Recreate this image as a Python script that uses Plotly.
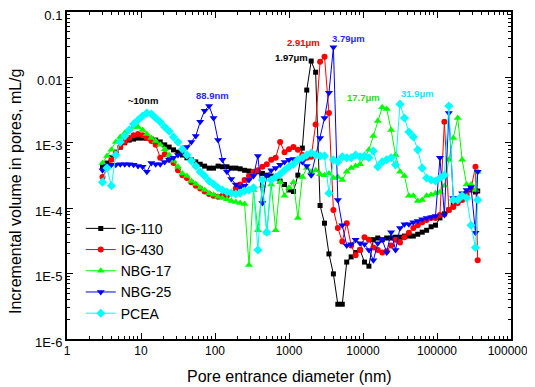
import plotly.graph_objects as go

# Pore entrance diameter (nm)
diameter_nm = [3.02, 3.47, 3.98, 4.57, 5.25, 6.03, 6.92, 7.94, 9.12, 10.5,
               12.0, 13.8, 15.8, 18.2, 20.9, 24.0, 27.5, 31.6, 36.3, 41.7,
               47.9, 55.0, 63.1, 72.4, 83.2, 95.5, 110, 126, 145, 166,
               191, 219, 251, 288, 331, 380, 437, 501, 575, 661,
               759, 871, 1000, 1148, 1318, 1514, 1738, 1995, 2291, 2630,
               3020, 3467, 3981, 4571, 5248, 6026, 6918, 7943, 9120, 10470,
               12020, 13800, 15850, 18200, 20890, 23990, 27540, 31620, 36310, 41690,
               47860, 54950, 63100, 72440, 83180, 95500, 109600, 125900, 144500, 166000,
               190500, 218800, 251200, 288400, 331100, 354800]

# Incremental volume in pores (mL/g)
ig110 = [4.3e-4, 4.9e-4, 5.9e-4, 7.2e-4, 8.6e-4, 1.0e-3, 1.1e-3, 1.14e-3, 1.18e-3, 1.18e-3,
         1.18e-3, 1.14e-3, 1.1e-3, 1.03e-3, 9.3e-4, 8.6e-4, 7.8e-4, 7.2e-4, 6.5e-4, 5.9e-4,
         5.5e-4, 5.1e-4, 4.7e-4, 4.4e-4, 4.1e-4, 4.1e-4, 4.4e-4, 4.3e-4, 4.3e-4, 4.1e-4,
         4.1e-4, 4.0e-4, 3.8e-4, 3.7e-4, 3.6e-4, 3.6e-4, 3.4e-4, 3.2e-4, 3.1e-4, 2.9e-4,
         2.6e-4, 2.3e-4, 1.9e-4, 1.8e-4, 3.2e-4, 8.3e-4, 6.4e-3, 1.78e-2, 1.2e-2, 1.1e-4,
         5.9e-5, 2.0e-5, 9.9e-6, 3.4e-6, 3.4e-6, 1.5e-5, 1.8e-5, 2.1e-5, 2.3e-5, 1.5e-5,
         1.3e-5, 3.3e-5, 3.5e-5, 3.3e-5, 3.5e-5, 3.5e-5, 3.6e-5, 3.6e-5, 3.75e-5, 3.75e-5,
         3.75e-5, 4.0e-5, 4.3e-5, 4.6e-5, 5.2e-5, 5.5e-5, 7.1e-5, 8.2e-5, 9.4e-5, 1.16e-4,
         1.34e-4, 1.48e-4, 1.65e-4, 1.9e-4, 1.77e-4, 1.83e-4]

ig430 = [3.0e-4, 4.1e-4, 5.5e-4, 7.0e-4, 8.6e-4, 1.03e-3, 1.18e-3, 1.3e-3, 1.36e-3, 1.3e-3,
         1.18e-3, 1.07e-3, 9.3e-4, 5.9e-4, 6.7e-4, 5.5e-4, 4.9e-4, 3.8e-4, 3.2e-4, 2.9e-4,
         2.5e-4, 2.2e-4, 2.0e-4, 1.8e-4, 1.65e-4, 1.55e-4, 1.5e-4, 1.55e-4, 1.55e-4, 1.7e-4,
         2.0e-4, 2.3e-4, 2.7e-4, 3.1e-4, 3.6e-4, 3.8e-4, 4.3e-4, 4.7e-4, 5.5e-4, 5.9e-4,
         1.03e-3, 7.2e-4, 8.0e-4, 8.6e-4, 7.8e-4, 6.5e-4, 5.9e-4, 6.1e-4, 1.9e-3, 1.74e-2,
         2.07e-2, 2.85e-3, 9.4e-5, 5.0e-5, 3.1e-5, 5.9e-5, 2.7e-5, 1.9e-5, 2.3e-5, 3.6e-5,
         3.3e-5, 2.5e-5, 2.3e-5, 2.1e-5, 2.2e-5, 2.7e-5, 3.3e-5, 3.0e-5, 3.6e-5, 4.2e-5,
         5.0e-5, 5.5e-5, 6.1e-5, 6.6e-5, 7.1e-5, 7.1e-5, 7.9e-5, 2.1e-3, 9.4e-5, 1.04e-4,
         1.2e-4, 1.34e-4, 1.6e-4, 2.0e-4, 4.3e-4, 1.6e-5]

nbg17 = [4.9e-4, 6.3e-4, 7.8e-4, 1.03e-3, 1.23e-3, 1.41e-3, 1.63e-3, 1.74e-3, 1.74e-3, 1.57e-3,
         1.36e-3, 1.18e-3, 1.07e-3, 9.3e-4, 8.0e-4, 6.5e-4, 5.3e-4, 4.3e-4, 3.4e-4, 3.1e-4,
         2.6e-4, 2.35e-4, 2.05e-4, 1.9e-4, 1.7e-4, 1.6e-4, 1.5e-4, 1.43e-4, 1.37e-4, 1.29e-4,
         1.24e-4, 1.2e-4, 1.16e-4, 1.35e-5, 1.9e-4, 4.6e-5, 2.2e-4, 4.2e-5, 2.3e-4, 4.6e-5,
         2.5e-4, 1.55e-4, 2.05e-4, 2.5e-4, 7.1e-5, 3.0e-4, 4.1e-4, 3.6e-4, 3.8e-4, 3.3e-4,
         3.2e-4, 3.4e-4, 2.9e-4, 3.0e-4, 2.7e-4, 3.6e-4, 4.1e-4, 4.4e-4, 4.7e-4, 5.9e-4,
         7.8e-4, 1.27e-3, 2.15e-3, 3.5e-3, 3.3e-3, 1.57e-3, 6.5e-4, 3.6e-4, 3.1e-4, 1.55e-4,
         1.55e-4, 1.29e-4, 1.34e-4, 1.55e-4, 1.6e-4, 1.7e-4, 1.77e-4, 2.2e-4, 5.5e-4, 1.18e-3,
         2.4e-3, 5.5e-4, 2.3e-4, 2.3e-4, 1.9e-4, 3.6e-4]

nbg25 = [3.8e-4, 4.4e-4, 4.6e-4, 4.6e-4, 4.7e-4, 4.7e-4, 4.7e-4, 4.6e-4, 4.4e-4, 4.3e-4,
         3.6e-4, 4.9e-4, 4.7e-4, 4.7e-4, 5.1e-4, 5.5e-4, 5.9e-4, 6.5e-4, 7.5e-4, 8.6e-4,
         1.03e-3, 1.27e-3, 2.1e-3, 3.1e-3, 3.65e-3, 2.4e-3, 1.1e-3, 5.5e-4, 3.6e-4, 2.8e-4,
         2.3e-4, 2.1e-4, 2.2e-4, 2.7e-4, 3.1e-4, 6.3e-4, 1.2e-4, 3.2e-4, 3.8e-4, 4.1e-4,
         4.6e-4, 5.1e-4, 5.5e-4, 5.65e-4, 5.5e-4, 5.1e-4, 4.4e-4, 3.2e-4, 6.5e-4, 1.18e-3,
         2.4e-3, 5.8e-3, 2.9e-2, 1.34e-4, 5.5e-5, 2.7e-5, 2.8e-5, 3.3e-5, 2.9e-5, 2.8e-5,
         2.3e-5, 1.6e-5, 2.9e-5, 3.3e-5, 2.1e-5, 4.3e-5, 2.3e-5, 5.0e-5, 5.7e-5, 5.7e-5,
         6.1e-5, 6.4e-5, 6.8e-5, 7.1e-5, 7.3e-5, 7.6e-5, 5.9e-4, 7.9e-5, 2.85e-3, 1.43e-4,
         1.38e-4, 1.7e-4, 1.9e-4, 2.1e-4, 4.2e-5, 3.6e-4]

pcea = [2.5e-4, 4.1e-4, 2.2e-4, 6.5e-4, 1.03e-3, 1.27e-3, 1.57e-3, 1.94e-3, 2.23e-3, 2.57e-3,
        2.86e-3, 2.76e-3, 2.4e-3, 2.08e-3, 1.74e-3, 1.5e-3, 1.23e-3, 1.03e-3, 8.0e-4, 6.5e-4,
        5.3e-4, 4.4e-4, 3.6e-4, 3.1e-4, 2.6e-4, 2.35e-4, 2.05e-4, 1.9e-4, 1.77e-4, 1.7e-4,
        1.65e-4, 1.7e-4, 1.83e-4, 1.9e-4, 2.05e-4, 2.3e-5, 2.7e-4, 4.3e-5, 2.7e-4, 3.0e-4,
        3.3e-4, 3.8e-4, 4.3e-4, 4.7e-4, 5.5e-4, 5.9e-4, 6.5e-4, 7.0e-4, 6.5e-4, 6.3e-4,
        6.3e-4, 1.7e-4, 5.5e-4, 5.1e-4, 6.1e-4, 5.9e-4, 5.9e-4, 6.5e-4, 6.1e-4, 6.3e-4,
        5.9e-4, 7.5e-4, 4.3e-4, 5.1e-4, 5.5e-4, 5.9e-4, 4.6e-4, 3.9e-3, 2.4e-3, 1.46e-3,
        1.23e-3, 7.8e-4, 4.1e-4, 2.9e-4, 2.7e-4, 2.6e-4, 2.9e-4, 3.2e-4, 3.65e-3, 1.34e-4,
        1.34e-4, 1.55e-4, 1.43e-4, 5.5e-5, 2.5e-5, 1.34e-4]

series_names = ["IG-110", "IG-430", "NBG-17", "NBG-25", "PCEA"]
series_values = [ig110, ig430, nbg17, nbg25, pcea]
series_colors = ["#000000", "#ff0000", "#00ff00", "#0000ff", "#00ffff"]
series_symbols = ["square", "circle", "triangle-up", "triangle-down", "diamond"]
series_sizes = [5, 6, 7, 7, 7]

x_tick_vals = [1, 10, 100, 1000, 10000, 100000, 1000000]
x_tick_text = ["1", "10", "100", "1000", "10000", "100000", "1000000"]
y_tick_vals = [1e-6, 1e-5, 1e-4, 1e-3, 1e-2, 1e-1]
y_tick_text = ["1E-6", "1E-5", "1E-4", "1E-3", "0.01", "0.1"]

# peak labels: (text, log10 diameter, log10 volume, colour)
peak_labels = [
    ("~10nm", 1.03, -2.36, "#000000"),
    ("88.9nm", 1.97, -2.27, "#2a2aff"),
    ("1.97\u03bcm", 3.04, -1.69, "#000000"),
    ("2.91\u03bcm", 3.20, -1.47, "#ff0000"),
    ("3.79\u03bcm", 3.81, -1.40, "#2a2aff"),
    ("17.7\u03bcm", 4.00, -2.31, "#22dd22"),
    ("31.9\u03bcm", 4.74, -2.24, "#22ddff"),
]

FONT = "Liberation Sans, Arial, sans-serif"

fig = go.Figure()
for name, ys, col, sym, sz in zip(series_names, series_values, series_colors,
                                   series_symbols, series_sizes):
    fig.add_trace(go.Scatter(
        x=diameter_nm, y=ys, name=name, mode="lines+markers",
        line=dict(color=col, width=1),
        marker=dict(symbol=sym, size=sz, color=col, line=dict(width=0)),
    ))

minor_x = [m * 10 ** e for e in range(0, 6) for m in range(2, 10)]
minor_y = [m * 10.0 ** e for e in range(-6, -1) for m in range(2, 10)]

axis_common = dict(
    ticks="inside", ticklen=6, tickwidth=1, tickcolor="black",
    showline=True, linecolor="black", linewidth=2, mirror="ticks",
    showgrid=False, zeroline=False, automargin=False,
    ticklabeloverflow="allow",
)

fig.update_xaxes(type="log", range=[0, 6], tickmode="array",
                 tickvals=x_tick_vals, ticktext=x_tick_text,
                 tickfont=dict(family=FONT, size=12, color="black"),
                 minor=dict(tickmode="array", tickvals=minor_x, ticks="inside",
                            ticklen=3, tickwidth=1, tickcolor="black", showgrid=False),
                 **axis_common)
fig.update_yaxes(type="log", range=[-6, -1], tickmode="array",
                 tickvals=y_tick_vals, ticktext=y_tick_text,
                 tickfont=dict(family=FONT, size=13, color="black"),
                 ticklabelshift=3,
                 minor=dict(tickmode="array", tickvals=minor_y, ticks="inside",
                            ticklen=3, tickwidth=1, tickcolor="black", showgrid=False),
                 **axis_common)

annotations = []
for txt, lx, ly, col in peak_labels:
    annotations.append(dict(x=lx, y=ly, xref="x", yref="y", text="<b>" + txt + "</b>",
                            showarrow=False, font=dict(family=FONT, size=9.5, color=col),
                            xanchor="center", yanchor="middle"))
annotations.append(dict(x=0.5, y=-0.1162, xref="paper", yref="paper",
                        text="Pore entrance diameter (nm)", showarrow=False,
                        font=dict(family=FONT, size=16, color="black"),
                        xanchor="center", yanchor="middle"))
annotations.append(dict(x=-0.1149, y=0.4526, xref="paper", yref="paper",
                        text="Incremental volume in pores, mL/g", showarrow=False,
                        textangle=-90,
                        font=dict(family=FONT, size=16, color="black"),
                        xanchor="center", yanchor="middle"))

# The page body adds an 8 px offset, so the figure is 8 px smaller and margins shifted.
fig.update_layout(
    template="none",
    width=527, height=379,
    margin=dict(l=59, r=24, t=4, b=48, pad=0, autoexpand=False),
    paper_bgcolor="white", plot_bgcolor="white",
    font=dict(family=FONT, color="black"),
    showlegend=True,
    legend=dict(x=0.031, y=0.386, xanchor="left", yanchor="top",
                bgcolor="rgba(0,0,0,0)", borderwidth=0,
                font=dict(family=FONT, size=14, color="black"),
                tracegroupgap=0, itemwidth=30),
    annotations=annotations,
)

fig.write_html("out.html")
